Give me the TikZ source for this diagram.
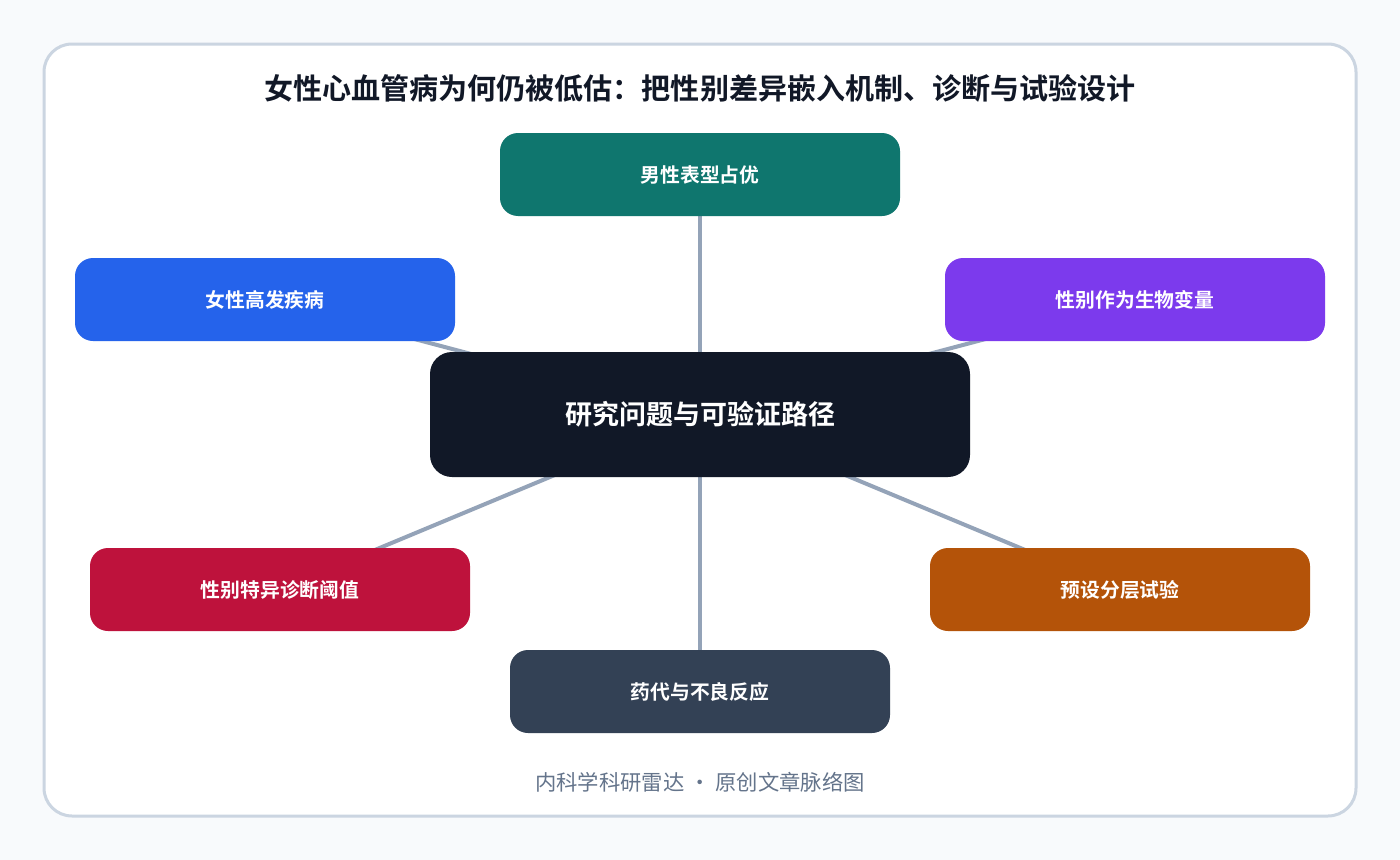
\documentclass[tikz,border=0pt]{standalone}
\usepackage{fontspec}
\setmainfont{Noto Sans CJK SC}
\newfontfamily\cjkb{Noto Sans CJK SC Bold}
\newfontfamily\cjkr{Noto Sans CJK SC}
\pgfdeclarelayer{bgl}
\pgfdeclarelayer{connl}
\pgfsetlayers{bgl,connl,main}
\definecolor{canvas}{HTML}{F8FAFC}
\definecolor{frame}{HTML}{CBD5E1}
\definecolor{ttl}{HTML}{111827}
\definecolor{ctr}{HTML}{111827}
\definecolor{teal}{HTML}{0F766E}
\definecolor{blu}{HTML}{2563EB}
\definecolor{vio}{HTML}{7C3AED}
\definecolor{crim}{HTML}{BE123C}
\definecolor{amb}{HTML}{B45309}
\definecolor{slt}{HTML}{334155}
\definecolor{lnk}{HTML}{94A3B8}
\definecolor{foot}{HTML}{64748B}
\tikzset{
  leaf/.style={rectangle, rounded corners=13.5pt, inner sep=0pt, minimum width=285pt, minimum height=62.25pt, text=white, font=\cjkb\fontsize{14.85pt}{17pt}\selectfont},
  hub/.style={rectangle, rounded corners=16.5pt, inner sep=0pt, minimum width=405pt, minimum height=93.75pt, fill=ctr, text=white, font=\cjkb\fontsize{20.25pt}{24pt}\selectfont},
  link/.style={draw=lnk, line width=3pt},
}
\begin{document}
\begin{tikzpicture}[x=0.75pt,y=-0.75pt]
\useasboundingbox (0,0) rectangle (1400,860);
\begin{pgfonlayer}{bgl}
\fill[canvas] (0,0) rectangle (1400,860);
\draw[frame, line width=2.25pt, fill=white, rounded corners=21pt] (44,44) rectangle (1356,816);
\end{pgfonlayer}
\node[font=\cjkb\fontsize{21.8pt}{26pt}\selectfont, text=ttl] (title) at (700,88) {女性心血管病为何仍被低估：把性别差异嵌入机制、诊断与试验设计};
\node[hub] (c) at (700,414.5) {研究问题与可验证路径};
\node[leaf, fill=teal] (t) at (700,174.5) [minimum width=300pt] {男性表型占优};
\node[leaf, fill=blu] (lu) at (265,299.5) {女性高发疾病};
\node[leaf, fill=vio] (ru) at (1135,299.5) {性别作为生物变量};
\node[leaf, fill=crim] (ll) at (280,589.5) {性别特异诊断阈值};
\node[leaf, fill=amb] (rl) at (1120,589.5) {预设分层试验};
\node[leaf, fill=slt] (b) at (700,691.5) {药代与不良反应};
\node[font=\cjkr\fontsize{16pt}{19pt}\selectfont, text=foot] (f) at (700,782) {内科学科研雷达 · 原创文章脉络图};
\begin{pgfonlayer}{connl}
\draw[link] (c.center) -- (t.center);
\draw[link] (c.center) -- (lu.center);
\draw[link] (c.center) -- (ru.center);
\draw[link] (c.center) -- (ll.center);
\draw[link] (c.center) -- (rl.center);
\draw[link] (c.center) -- (b.center);
\end{pgfonlayer}
\end{tikzpicture}
\end{document}
